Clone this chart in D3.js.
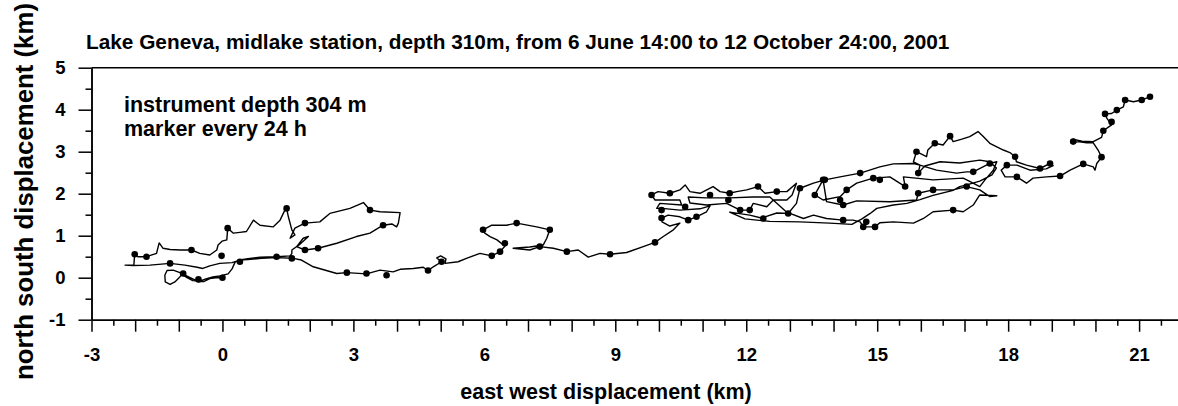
<!DOCTYPE html>
<html>
<head>
<meta charset="utf-8">
<script src="https://cdn.jsdelivr.net/npm/d3@7"></script>
<style>
  body { margin: 0; background: #fff; }
  svg text { font-family: "Liberation Sans", Arial, sans-serif; font-weight: bold; fill: #000; }
</style>
</head>
<body>
<svg id="chart" width="1178" height="406"></svg>
<script>
'use strict';

// Track of the current meter (east, north displacement in km)
var eastKm = [
  0, -0.15, -0.29, -0.42, -0.56, -0.68, -0.81, -0.90, -1.02, -1.13, -1.27, -1.32, -1.31, -1.20, -1.09, -1.00, -0.93, -0.81, -0.68, -0.52, -0.38, -0.22, -0.06, 0.13, 0.22, 0.29, 0.40,
  0.22, -0.06, -0.29, -0.45, -0.58, -0.86, -1.20, -1.66, -2.05, -2.23, -2.03, -2.01,
  -1.94, -1.74, -1.51, -1.45, -1.36, -1.20, -0.97, -0.71, -0.52, -0.29, -0.13, -0.10, -0.01, 0.10, 0.12, 0.25, 0.40, 0.55, 0.71, 0.86, 1.16, 1.32, 1.43, 1.47, 1.51, 1.59, 1.66, 1.55,
  1.66, 1.89, 2.23, 2.46, 2.92, 3.23, 3.38, 3.61, 4.07, 4.03, 3.99, 3.88, 3.68, 3.38, 3.07, 2.62, 2.19, 1.89, 1.70, 1.85, 1.97, 1.78, 1.59, 1.59, 1.55,
  1.24, 0.86, 0.58, 0.40, 0.58, 0.90, 1.24, 1.62,
  1.81, 2.08, 2.62, 2.85, 3.30, 3.61, 3.91, 4.07, 4.37, 4.60, 4.71, 4.83, 5.02, 4.91, 5.00, 5.12, 5.10, 5.40, 5.59, 5.90, 6.17, 6.36,
  6.47, 6.29, 6.13, 6.01, 5.97, 6.17, 6.51, 6.74, 7.20, 7.50, 7.43, 7.35, 7.04, 6.66, 7.04, 7.27, 7.58, 7.89, 8.15, 8.38, 8.65, 8.88, 9.26, 9.64, 9.91, 10.10, 10.33, 10.48,
  10.25, 10.07, 10.06, 10.21, 10.48, 10.67, 10.86, 11.09, 11.17, 10.94, 10.48, 10.07, 9.95, 10.02, 10.52, 10.48, 9.91, 9.83, 9.98, 10.25, 10.48, 10.60, 10.71, 10.94, 11.24, 11.40,
  11.62, 11.78, 12.01, 12.27, 12.43, 12.70, 12.93, 13.15, 13.05, 12.93, 12.62, 12.47, 12.16, 12.08, 11.86, 11.55, 11.09, 10.71, 10.67, 11.08, 11.62, 12.15, 12.54, 12.96, 13.15,
  13.23, 13.54, 13.80, 14.15, 14.61, 15.06, 15.37, 15.83, 15.98, 16.36, 16.82, 17.05, 17.20, 17.58, 17.74,
  17.66, 17.47, 17.35, 17.13, 16.97, 16.28, 15.60, 15.64, 15.29, 14.91, 14.53, 14.30, 14.15, 13.76, 13.57, 13.61, 13.76,
  13.84, 14.22, 14.53, 15.29, 15.90, 15.94, 16.28, 16.74, 17.05, 17.35, 17.58, 17.74,
  17.35, 17.20, 16.97, 16.74, 16.28, 16.06, 15.83, 15.37, 15.06, 14.95, 14.68, 14.61, 14.45, 14.22, 13.84, 13.54, 13.31, 13.00, 12.70, 12.43, 12.39, 12.08, 11.62,
  11.97, 12.54, 13.23, 13.91, 14.42, 14.65, 14.84, 14.99, 15.37, 15.68, 15.98, 16.28, 16.74, 16.89, 17.05, 17.35, 17.63,
  17.73, 17.58, 17.35, 16.89, 16.44, 16.09, 15.94, 15.98, 15.83, 15.90, 16.13, 16.16, 16.32, 16.51, 16.67, 16.74, 16.94, 17.12, 17.31, 17.43, 17.58, 17.89, 18.04, 18.16, 18.19,
  18.42, 18.73, 18.96, 19.03, 18.87, 18.50, 18.20, 17.97, 17.84, 17.93, 18.20, 18.42, 18.57, 18.88, 19.19, 19.42, 19.72, 19.95, 19.99, 20.03, 20.14, 20.06, 19.95, 19.80, 19.60,
  19.45, 19.48, 19.69, 19.95, 20.14, 20.18, 20.37, 20.26, 20.22, 20.37, 20.49, 20.64, 20.68, 20.87, 21.06, 21.25
];
var northKm = [
  0, 0.00, -0.02, -0.09, -0.09, -0.03, 0.04, 0.09, 0.14, 0.18, 0.17, 0.06, -0.10, -0.16, -0.10, -0.01, 0.08, 0.00, -0.07, -0.08, -0.03, 0.02, 0.04, 0.09, 0.21, 0.37, 0.42,
  0.36, 0.34, 0.28, 0.22, 0.25, 0.30, 0.34, 0.30, 0.29, 0.30, 0.30, 0.56,
  0.50, 0.50, 0.58, 0.83, 0.70, 0.67, 0.66, 0.66, 0.58, 0.54, 0.66, 0.78, 0.87, 0.90, 1.18, 1.06, 1.08, 1.10, 1.37, 1.25, 1.21, 1.37, 1.61, 1.65, 1.45, 1.14, 1.02, 0.94,
  1.18, 1.30, 1.33, 1.53, 1.65, 1.79, 1.61, 1.57, 1.55, 1.30, 1.21, 1.28, 1.25, 1.06, 0.98, 0.82, 0.70, 0.66, 0.74, 0.94, 0.98, 0.80, 0.66, 0.58, 0.52,
  0.50, 0.49, 0.45, 0.42, 0.43, 0.46, 0.48, 0.46,
  0.42, 0.26, 0.10, 0.12, 0.09, 0.18, 0.14, 0.20, 0.22, 0.25, 0.17, 0.26, 0.38, 0.47, 0.52, 0.45, 0.34, 0.38, 0.46, 0.58, 0.52, 0.62,
  0.75, 0.90, 0.98, 1.06, 1.14, 1.25, 1.25, 1.30, 1.21, 1.14, 0.94, 0.78, 0.73, 0.70, 0.66, 0.74, 0.70, 0.62, 0.66, 0.49, 0.58, 0.56, 0.60, 0.74, 0.84, 0.98, 1.14, 1.30,
  1.23, 1.33, 1.42, 1.49, 1.45, 1.37, 1.45, 1.57, 1.71, 1.64, 1.61, 1.65, 1.65, 1.77, 1.73, 1.85, 1.85, 1.97, 2.05, 2.01, 2.09, 2.21, 2.05, 2.01, 2.17, 2.05,
  2.01, 2.05, 2.09, 2.17, 2.01, 2.05, 2.05, 2.25, 1.97, 1.85, 1.85, 1.69, 1.77, 1.61, 1.61, 1.77, 1.73, 1.78, 1.92, 1.90, 1.90, 1.92, 1.92, 1.53, 1.77,
  2.13, 2.25, 2.33, 2.40, 2.49, 2.64, 2.71, 2.72, 2.68, 2.56, 2.49, 2.52, 2.52, 2.72, 2.76,
  2.56, 2.33, 2.17, 2.29, 2.37, 2.33, 2.40, 2.17, 2.40, 2.37, 2.25, 2.09, 1.93, 1.85, 1.97, 2.05, 2.33,
  1.81, 1.73, 1.83, 1.81, 1.85, 2.01, 2.09, 2.09, 2.17, 2.09, 1.93, 1.95,
  1.97, 1.73, 1.57, 1.61, 1.57, 1.41, 1.30, 1.33, 1.31, 1.21, 1.21, 1.33, 1.37, 1.37, 1.41, 1.49, 1.41, 1.53, 1.54, 1.45, 1.41, 1.49, 1.56,
  1.40, 1.34, 1.33, 1.30, 1.27, 1.40, 1.53, 1.65, 1.73, 1.77, 1.86, 1.96, 2.08, 2.17, 2.21, 2.30, 2.45,
  2.61, 2.76, 2.80, 2.73, 2.76, 2.66, 2.49, 2.68, 2.76, 3.00, 2.88, 3.04, 3.20, 3.16, 3.37, 3.24, 3.30, 3.36, 3.48, 3.36, 3.20, 3.04, 2.98, 2.88, 2.76,
  2.68, 2.60, 2.72, 2.67, 2.59, 2.56, 2.68, 2.68, 2.56, 2.40, 2.40, 2.25, 2.37, 2.40, 2.42, 2.56, 2.71, 2.64, 2.56, 2.72, 2.87, 3.04, 3.21, 3.21, 3.24,
  3.20, 3.30, 3.25, 3.24, 3.34, 3.50, 3.64, 3.80, 3.90, 3.91, 3.99, 4.07, 4.23, 4.19, 4.23, 4.31
];

// Daily markers (km)
var markerEast = [
  0, -0.90, -0.55, -1.20, -2.01, -1.74, -0.71, 0.12, 1.47, -0.02, 0.40, 1.24, 1.59, 1.89, 3.38, 3.68, 2.19, 1.89,
  2.85, 3.30, 3.76, 4.71, 5.02, 6.17, 6.36, 6.47, 5.97, 6.74, 7.50, 7.27, 7.89, 8.88, 9.91,
  10.06, 10.67, 10.86, 9.83, 10.25, 11.62, 12.27, 12.70, 12.08, 11.86, 12.96, 12.39, 10.06, 10.60, 11.59, 11.17,
  13.23, 13.80, 14.61, 17.20, 17.58, 15.64, 14.91, 14.30, 13.57, 13.76, 14.22, 15.94, 16.28, 17.05, 16.74, 14.95,
  14.68, 14.22, 15.06, 14.15, 14.75, 15.94, 15.90, 16.32, 16.67, 18.16, 18.73, 18.96, 17.97, 18.20, 19.19, 19.72,
  20.14, 19.49, 20.18, 20.37, 20.22, 20.49, 20.68, 21.06, 21.25
];
var markerNorth = [
  0, 0.10, -0.04, 0.34, 0.56, 0.50, 0.66, 1.18, 1.65, 0.52, 0.38, 0.50, 0.46, 1.30, 1.61, 1.25, 0.70, 0.66,
  0.12, 0.10, 0.06, 0.17, 0.38, 0.52, 0.62, 0.82, 1.14, 1.30, 1.14, 0.74, 0.62, 0.56, 0.84,
  1.42, 1.37, 1.45, 1.97, 2.01, 2.01, 2.17, 2.05, 1.61, 1.61, 1.53, 1.41, 1.61, 1.69, 1.85, 1.97,
  2.13, 2.33, 2.49, 2.52, 2.72, 2.17, 2.37, 2.09, 1.97, 2.33, 1.73, 2.01, 2.09, 2.17, 1.61, 1.21,
  1.21, 1.37, 2.33, 1.85, 1.33, 2.49, 3.00, 3.20, 3.37, 2.88, 2.60, 2.72, 2.68, 2.40, 2.42, 2.71,
  2.87, 3.24, 3.50, 3.71, 3.90, 3.99, 4.23, 4.23, 4.31
];

var xLabels = [-3, 0, 3, 6, 9, 12, 15, 18, 21];
var yLabels = [-1, 0, 1, 2, 3, 4, 5];
var titleText = 'Lake Geneva, midlake station, depth 310m, from 6 June 14:00 to 12 October 24:00, 2001';
var noteLines = ['instrument depth 304 m', 'marker every 24 h'];
var xTitle = 'east west displacement (km)';
var yTitle = 'north south displacement (km)';

var svg = d3.select('#chart');

var x = d3.scaleLinear().domain([-3, 23]).range([91.5, 91.5 + 26 * 43.65]);
var y = d3.scaleLinear().domain([-1, 5]).range([319.7, 67.7]);

// Axes: major ticks every km, minor every half km
var xMajor = d3.axisBottom(x)
  .tickValues(d3.range(-3, 24, 1))
  .tickSize(12).tickSizeOuter(0).tickPadding(16)
  .tickFormat(function(d) { return xLabels.indexOf(d) >= 0 ? String(d) : ''; });
var xMinor = d3.axisBottom(x)
  .tickValues(d3.range(-2.5, 23, 1))
  .tickSize(6).tickSizeOuter(0)
  .tickFormat('');
var yMajor = d3.axisLeft(y)
  .tickValues(yLabels)
  .tickSize(13).tickSizeOuter(0).tickPadding(13)
  .tickFormat(function(d) { return String(d); });
var yMinor = d3.axisLeft(y)
  .tickValues(d3.range(-0.5, 5, 1))
  .tickSize(6).tickSizeOuter(0)
  .tickFormat('');

function styleAxis(g) {
  g.selectAll('path, line').attr('stroke', '#000').attr('stroke-width', 1.5);
  g.selectAll('text').style('font-size', '18.5px').attr('fill', '#000');
}

svg.append('g').attr('transform', 'translate(0,' + y(-1) + ')').call(xMinor).call(styleAxis);
svg.append('g').attr('transform', 'translate(0,' + y(-1) + ')').call(xMajor).call(styleAxis);
svg.append('g').attr('transform', 'translate(' + x(-3) + ',0)').call(yMinor).call(styleAxis);
svg.append('g').attr('transform', 'translate(' + x(-3) + ',0)').call(yMajor).call(styleAxis);

// top frame line
svg.append('line')
  .attr('x1', x(-3)).attr('x2', 1178)
  .attr('y1', y(5)).attr('y2', y(5))
  .attr('stroke', '#000').attr('stroke-width', 1.5);

// Track
var track = eastKm.map(function(e, i) { return [e, northKm[i]]; });
var line = d3.line()
  .x(function(d) { return x(d[0]); })
  .y(function(d) { return y(d[1]); });

svg.append('path')
  .datum(track)
  .attr('d', line)
  .attr('fill', 'none')
  .attr('stroke', '#000')
  .attr('stroke-width', 1.4)
  .attr('stroke-linejoin', 'round');

svg.append('g').selectAll('circle')
  .data(markerEast)
  .enter().append('circle')
  .attr('cx', function(d) { return x(d); })
  .attr('cy', function(d, i) { return y(markerNorth[i]); })
  .attr('r', 3.3)
  .attr('fill', '#000');

// Texts
svg.append('text')
  .attr('x', 86).attr('y', 49.3)
  .style('font-size', '20.8px')
  .text(titleText);

svg.selectAll('.note')
  .data(noteLines)
  .enter().append('text')
  .attr('class', 'note')
  .attr('x', 124)
  .attr('y', function(d, i) { return 111.7 + i * 24; })
  .style('font-size', '21.5px')
  .text(function(d) { return d; });

svg.append('text')
  .attr('x', 606).attr('y', 399)
  .style('text-anchor', 'middle')
  .style('font-size', '21.5px')
  .text(xTitle);

svg.append('text')
  .attr('transform', 'translate(33,191.5) rotate(-90)')
  .style('text-anchor', 'middle')
  .style('font-size', '25.8px')
  .text(yTitle);
</script>
</body>
</html>
